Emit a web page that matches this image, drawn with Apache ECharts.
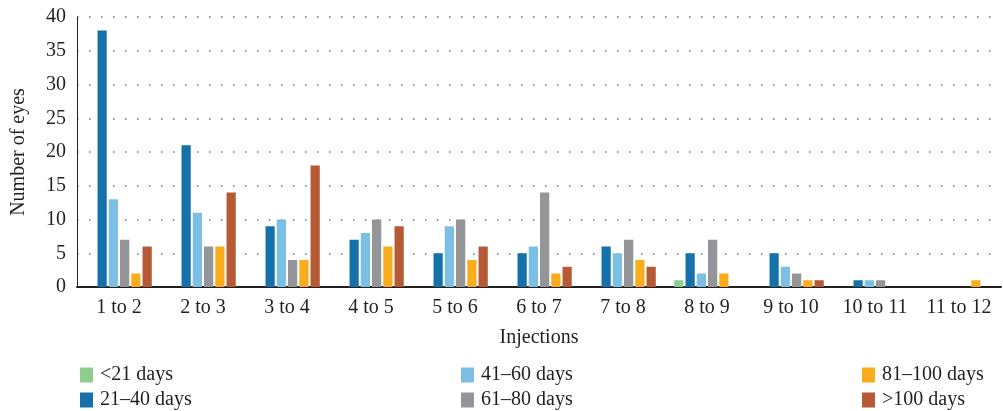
<!DOCTYPE html>
<html>
<head>
<meta charset="utf-8">
<script src="https://cdn.jsdelivr.net/npm/echarts@6/dist/echarts.min.js"></script>
<style>html,body{margin:0;padding:0;background:#fff}#c{width:1003px;height:411px}</style>
</head>
<body>
<div id="c"></div>
<script>
var categories = ['1 to 2','2 to 3','3 to 4','4 to 5','5 to 6','6 to 7','7 to 8','8 to 9','9 to 10','10 to 11','11 to 12'];
var seriesNames = ['<21 days','21\u201340 days','41\u201360 days','61\u201380 days','81\u2013100 days','>100 days'];
var lt21 =    [0, 0, 0, 0, 0, 0, 0, 1, 0, 0, 0];
var d21to40 = [38,21, 9, 7, 5, 5, 6, 5, 5, 1, 0];
var d41to60 = [13,11,10, 8, 9, 6, 5, 2, 3, 1, 0];
var d61to80 = [ 7, 6, 4,10,10,14, 7, 7, 2, 1, 0];
var d81to100 =[ 2, 6, 4, 6, 4, 2, 4, 2, 1, 0, 1];
var gt100 =   [ 6,14,18, 9, 6, 3, 3, 0, 1, 0, 0];
var yTicks = [0,5,10,15,20,25,30,35,40];

var colors = ['#8DCD8E','#1571AA','#7CBFE4','#949599','#F9AC1C','#B55A34'];
var values = [lt21,d21to40,d41to60,d61to80,d81to100,gt100];
var font = 'Liberation Serif';
var fs = 20;

var chart = echarts.init(document.getElementById('c'), null, {renderer:'canvas'});
var series = values.map(function(v,i){
  return {name: seriesNames[i], type:'bar', data:v, barGap:'22%', barCategoryGap:'22%',
          itemStyle:{color:colors[i]}};
});
var legPos = [[80,365],[80,390],[461,365],[461,390],[862,365],[862,390]];
var legends = seriesNames.map(function(n,i){
  return {left:legPos[i][0], top:legPos[i][1], itemWidth:13, itemHeight:15,
    icon:'rect', data:[n], padding:0,
    textStyle:{fontFamily:font, fontSize:fs, color:'#231f20', padding:[0,0,0,2]}};
});
chart.setOption({
  animation:false,
  color: colors,
  grid:{left:77, right:2, top:17, bottom:124, containLabel:false, outerBoundsMode:'none'},
  legend: legends,
  xAxis:{type:'category', data:categories,
    name:'Injections', nameLocation:'middle', nameGap:41,
    nameTextStyle:{fontFamily:font, fontSize:fs, color:'#231f20'},
    axisLine:{lineStyle:{color:'#231f20', width:2}},
    axisTick:{show:false},
    axisLabel:{interval:0, hideOverlap:false, fontFamily:font, fontSize:fs, color:'#231f20', margin:11}},
  yAxis:{type:'value', min:0, max:40, interval:5,
    name:'Number of eyes', nameLocation:'middle', nameGap:48,
    nameTextStyle:{fontFamily:font, fontSize:fs, color:'#231f20'},
    axisLine:{show:true, lineStyle:{color:'#231f20', width:1}},
    axisTick:{show:false},
    axisLabel:{fontFamily:font, fontSize:fs, color:'#231f20', margin:11,
      formatter:function(v){return yTicks.indexOf(v)>=0 ? String(v) : '';}},
    splitLine:{show:true, lineStyle:{color:'#777', width:1.5, type:[1.5,10.5]}}},
  series: series
});
</script>
</body>
</html>
